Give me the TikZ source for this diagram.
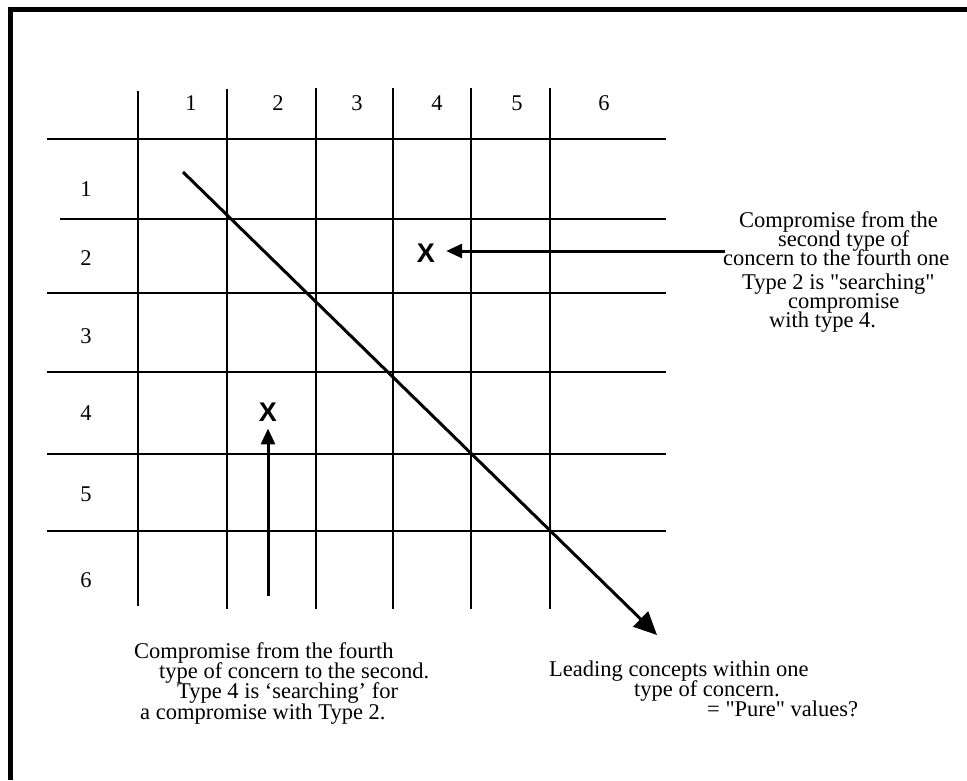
\documentclass[tikz,border=0pt]{standalone}
\usepackage{fontspec}
\setmainfont{Liberation Serif}[Ligatures=TeXOff]
\newfontfamily\xfont{Liberation Sans}
\usetikzlibrary{arrows.meta}
\tikzset{
  gridline/.style={line width=2.4pt, line cap=butt},
  frameline/.style={line width=5pt},
  txt/.style={anchor=base west, inner sep=0pt, font=\fontsize{22.5}{20}\selectfont},
  digit/.style={anchor=base, inner sep=0pt, font=\fontsize{22.5}{20}\selectfont},
  xmark/.style={inner sep=0pt, font=\xfont\bfseries\fontsize{27}{27}\selectfont},
  arr/.style={line width=3pt, -{Triangle[length=16pt,width=14pt]}},
  bigarr/.style={line width=3pt, -{Triangle[length=23pt,width=21pt]}}
}
\begin{document}
\begin{tikzpicture}[x={(1pt,0)}, y={(0,-1pt)}]
\useasboundingbox (0,0) rectangle (967,780);
% frame (left and top edges)
\draw[frameline] (10.5,780) -- (10.5,9.5) -- (967,9.5);
% horizontal grid lines
\draw[gridline] (47,139) -- (666,139);
\draw[gridline] (60,219) -- (666,219);
\draw[gridline] (47,293) -- (666,293);
\draw[gridline] (47,372) -- (666,372);
\draw[gridline] (47,454) -- (666,454);
\draw[gridline] (47,531) -- (666,531);
% vertical grid lines
\draw[gridline] (138,91) -- (138,606);
\draw[gridline] (227,89) -- (227,609);
\draw[gridline] (316,88) -- (316,609);
\draw[gridline] (393,88) -- (393,609);
\draw[gridline] (471,88) -- (471,609);
\draw[gridline] (550,88) -- (550,609);
% column labels
\node[digit] (c1) at (191,110) {1};
\node[digit] (c2) at (278,110) {2};
\node[digit] (c3) at (357,110) {3};
\node[digit] (c4) at (437,110) {4};
\node[digit] (c5) at (517,110) {5};
\node[digit] (c6) at (604,110) {6};
% row labels
\node[digit] (r1) at (86,196) {1};
\node[digit] (r2) at (86,265) {2};
\node[digit] (r3) at (86,343) {3};
\node[digit] (r4) at (86,420) {4};
\node[digit] (r5) at (86,501) {5};
\node[digit] (r6) at (86,587) {6};
% X marks
\node[xmark] (xa) at (426,253) {X};
\node[xmark] (xb) at (268,412) {X};
% arrows
\coordinate (tailA) at (725,251);
\coordinate (tailB) at (268,596);
\coordinate (dstart) at (183,172);
\coordinate (dend) at (657,635);
\draw[arr, shorten >=11pt] (tailA) -- (xa.east |- tailA);
\draw[arr, shorten >=7pt] (tailB) -- (xb.south);
\draw[bigarr] (dstart) -- (dend);
% right text block
\node[txt] (ra) at (739,227) {Compromise from the};
\node[txt] (rb) at (778,246) {second type of};
\node[txt] (rc) at (723,265) {concern to the fourth one};
\node[txt] (rd) at (742,289) {Type 2 is "searching"};
\node[txt] (re) at (788,308) {compromise};
\node[txt] (rf) at (769,327) {with type 4.};
% bottom-left text block
\node[txt] (la) at (134,658) {Compromise from the fourth};
\node[txt] (lb) at (159,678) {type of concern to the second.};
\node[txt] (lc) at (177,698) {Type 4 is ‘searching’ for};
\node[txt] (ld) at (140,719) {a compromise with Type 2.};
% bottom-right text block
\node[txt] (ba) at (549,676) {Leading concepts within one};
\node[txt] (bb) at (634,696) {type of concern.};
\node[txt] (bc) at (707,716) {= "Pure" values?};
\end{tikzpicture}
\end{document}
